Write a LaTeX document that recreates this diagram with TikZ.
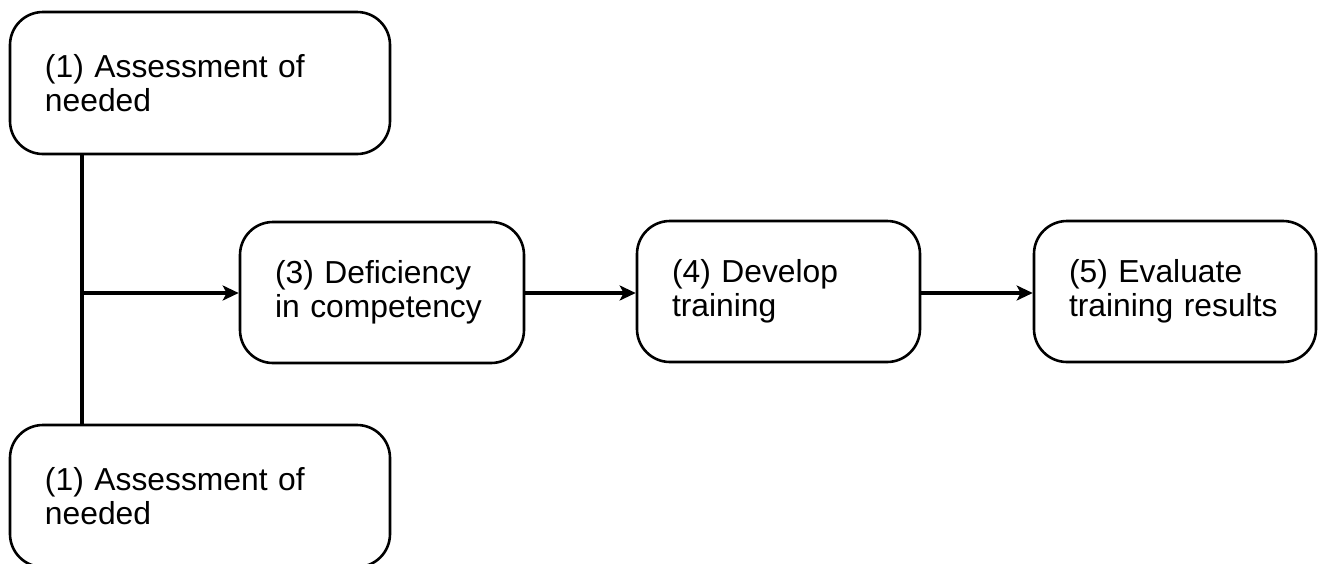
\documentclass[tikz,border=0pt]{standalone}
\usepackage{fontspec}
\setmainfont{Liberation Sans}
\usetikzlibrary{arrows.meta}
\tikzset{
  box/.style={draw=black, line width=1.3pt, rounded corners=16.5pt, inner sep=0pt,
    align=left, font=\fontsize{15.9pt}{16.8pt}\selectfont},
  conn/.style={line width=2.1pt, draw=black},
  arr/.style={conn, -{Stealth[length=8pt,width=7.5pt,inset=2pt]}}
}
\begin{document}
\begin{tikzpicture}[x=0.5pt,y=-0.5pt]
\useasboundingbox (0,0) rectangle (1319,563);
\node[box, minimum width=190pt, minimum height=71pt, text width=155pt] (a1) at (200,83) {(1) Assessment of\\needed};
\node[box, minimum width=190pt, minimum height=71pt, text width=155pt] (a2) at (200,496) {(1) Assessment of\\needed};
\node[box, minimum width=142pt, minimum height=70.5pt, text width=107pt] (d3) at (382,292.5) {(3) Deficiency\\in competency};
\node[box, minimum width=141.5pt, minimum height=70.5pt, text width=106.5pt] (d4) at (778.5,291.5) {(4) Develop\\training};
\node[box, minimum width=141pt, minimum height=70.5pt, text width=106pt] (d5) at (1175,291.5) {(5) Evaluate\\training results};
\coordinate (j) at (82,293);
\draw[conn] (a1.south -| j) -- (a2.north -| j);
\draw[arr] (j) -- (d3.west |- j);
\draw[arr] (d3.east |- j) -- (d4.west |- j);
\draw[arr] (d4.east |- j) -- (d5.west |- j);
\end{tikzpicture}
\end{document}
